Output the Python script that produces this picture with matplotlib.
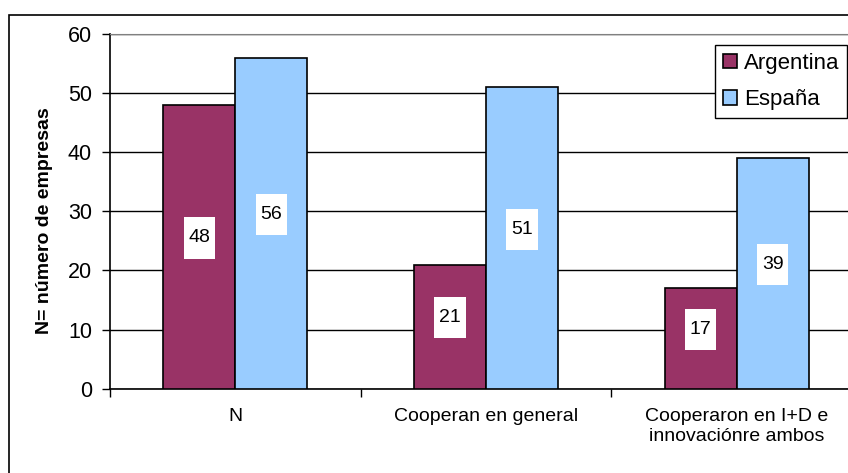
import numpy as np
from matplotlib import pyplot as plt
from matplotlib.patches import Rectangle
from matplotlib.path import Path

categorias = ['N', 'Cooperan en general', 'Cooperaron en I+D e\ninnovaciónre ambos']
argentina = [48, 21, 17]
espana = [56, 51, 39]
series = ['Argentina', 'España']

plt.rcParams['font.family'] = ['Liberation Sans', 'DejaVu Sans']


def caja_alta(x0, y0, width, height, mutation_size):
    # caja blanca mas alta que ancha, como las etiquetas de Excel
    px = 0.25 * mutation_size
    py = 0.62 * mutation_size
    x1, y1 = x0 - px, y0 - py
    x2, y2 = x0 + width + px, y0 + height + py
    return Path([(x1, y1), (x2, y1), (x2, y2), (x1, y2), (x1, y1)], closed=True)


W, H = 848, 473
fig = plt.figure(figsize=(W / 100, H / 100), dpi=100)
# marco exterior del grafico (cortado a la derecha y abajo)
fig.patches.append(Rectangle((9 / W, -0.1), 1.0, 1 - 15 / H + 0.1,
                             transform=fig.transFigure, fill=False,
                             edgecolor='black', linewidth=1.2))

ax = fig.add_axes([110 / W, 84.3 / H, 752 / W, 354.7 / H])

index = np.arange(len(categorias))
bar_width = 0.287
b1 = ax.bar(index - bar_width / 2, argentina, width=bar_width, color='#993366',
            edgecolor='black', linewidth=1.2, label=series[0], zorder=3)
b2 = ax.bar(index + bar_width / 2, espana, width=bar_width, color='#99CCFF',
            edgecolor='black', linewidth=1.2, label=series[1], zorder=3)

for bars, vals in ((b1, argentina), (b2, espana)):
    for rect, v in zip(bars, vals):
        ax.text(rect.get_x() + rect.get_width() / 2, v / 2 + 1.5, str(v),
                ha='center', va='center', fontsize=14, zorder=4,
                bbox=dict(boxstyle=caja_alta, facecolor='white', edgecolor='none'))

ax.set_xlim(-0.5, 2.5)
ax.set_ylim(0, 60)
ax.set_yticks(range(0, 61, 10))
ax.yaxis.grid(True, color='black', linewidth=1.0, zorder=0)
ax.tick_params(axis='y', labelsize=15.5, length=6, width=1.0, direction='out', pad=7)

ax.set_xticks(index)
ax.set_xticklabels(categorias, fontsize=14)
ax.set_xticks(np.arange(-0.5, 2.6, 1.0), minor=True)
ax.tick_params(axis='x', which='major', length=0, pad=14)
ax.tick_params(axis='x', which='minor', length=6, width=1.0, direction='out')

ax.spines['top'].set_color('#808080')
ax.spines['right'].set_color('#808080')
ax.spines['left'].set_linewidth(1.2)
ax.spines['bottom'].set_linewidth(1.2)

ax.set_ylabel('N= número de empresas', fontsize=14, fontweight='bold')
ax.yaxis.set_label_coords(-0.076, 0.473)

leg = ax.legend(loc='upper right', bbox_to_anchor=(847 / W, 1 - 45 / H),
                bbox_transform=fig.transFigure, fontsize=16, fancybox=False,
                framealpha=1, edgecolor='black', handlelength=0.65, handleheight=0.65,
                handletextpad=0.3, labelspacing=0.7, borderpad=0.35, borderaxespad=0)
leg.get_frame().set_linewidth(1.0)

fig.savefig('out.png', dpi=100)
